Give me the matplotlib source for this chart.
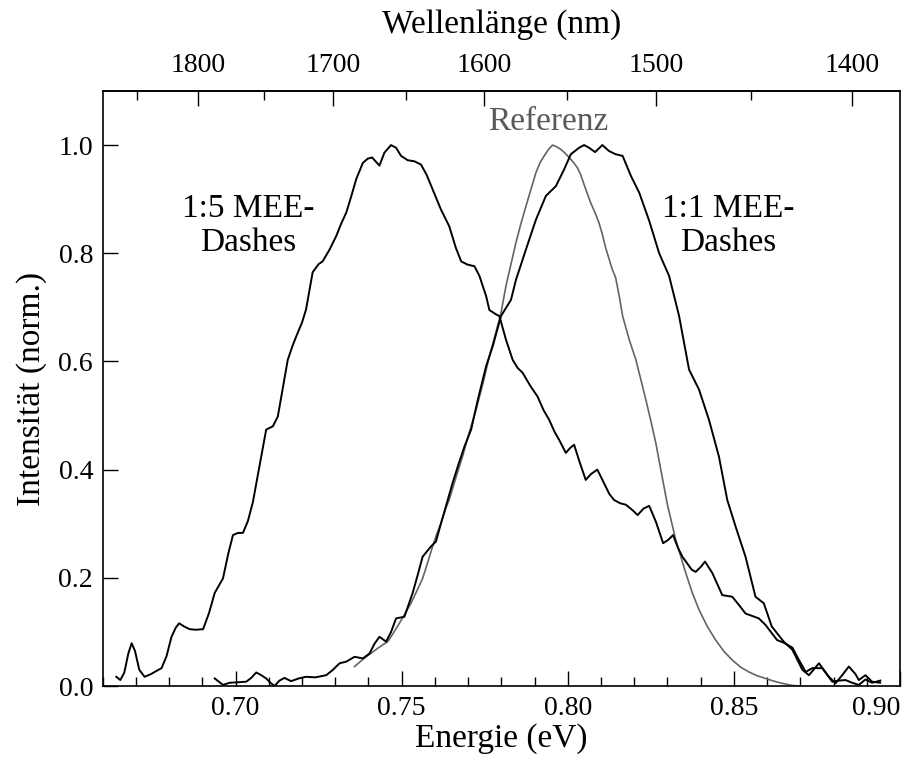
import matplotlib
matplotlib.use("Agg")
import matplotlib.pyplot as plt
from matplotlib.ticker import MultipleLocator, FixedLocator
import numpy as np

plt.rcParams['font.family'] = ['Liberation Serif', 'DejaVu Serif']
plt.rcParams['mathtext.fontset'] = 'stix'

# ---- data -------------------------------------------------------------
e_15 = [0.6641,0.6653,0.6665,0.6677,0.6687,0.6697,0.6710,0.6726,0.6745,0.6762,0.6777,0.6792,0.6807,0.6820,0.6830,
        0.6845,0.6862,0.6880,0.6902,0.6920,0.6937,0.6962,0.6978,0.6992,0.7007,0.7022,0.7037,0.7052,0.7070,0.7092,
        0.7112,0.7127,0.7142,0.7157,0.7172,0.7187,0.7200,0.7212,0.7232,0.7250,0.7262,0.7283,0.7303,0.7318,0.7333,
        0.7348,0.7363,0.7383,0.7398,0.7411,0.7433,0.7448,0.7468,0.7483,0.7498,0.7518,0.7538,0.7558,0.7575,0.7593,
        0.7618,0.7643,0.7663,0.7679,0.7698,0.7719,0.7734,0.7754,0.7764,0.7784,0.7794,0.7814,0.7834,0.7849,0.7864,
        0.7887,0.7909,0.7927,0.7944,0.7960,0.7974,0.7994,0.8007,0.8019,0.8035,0.8054,0.8070,0.8089,0.8109,0.8125,
        0.8139,0.8157,0.8175,0.8195,0.8210,0.8228,0.8245,0.8265,0.8287,0.8302,0.8317,0.8332,0.8345,0.8373,0.8385,
        0.8400,0.8413,0.8435,0.8465,0.8495,0.8515,0.8535,0.8575,0.8595,0.8630,0.8650,0.8676,0.8696,0.8716,0.8736,
        0.8766,0.8796,0.8816,0.8836,0.8856,0.8876,0.8896,0.8916,0.8941]
i_15 = [0.017,0.011,0.025,0.060,0.079,0.065,0.030,0.017,0.022,0.028,0.033,0.055,0.091,0.108,0.116,
        0.110,0.105,0.104,0.105,0.135,0.172,0.199,0.245,0.279,0.283,0.283,0.305,0.340,0.400,0.474,
        0.480,0.498,0.550,0.603,0.630,0.653,0.672,0.696,0.765,0.780,0.785,0.807,0.832,0.855,0.875,
        0.905,0.937,0.967,0.975,0.977,0.962,0.986,1.000,0.995,0.980,0.972,0.970,0.964,0.945,0.918,
        0.881,0.850,0.810,0.785,0.779,0.776,0.758,0.721,0.695,0.687,0.684,0.640,0.603,0.588,0.579,
        0.555,0.535,0.510,0.492,0.470,0.455,0.431,0.440,0.446,0.415,0.381,0.392,0.400,0.375,0.355,
        0.344,0.338,0.335,0.325,0.316,0.328,0.333,0.304,0.264,0.270,0.279,0.255,0.239,0.215,0.211,
        0.220,0.230,0.209,0.168,0.165,0.150,0.134,0.125,0.113,0.085,0.080,0.071,0.048,0.026,0.033,
        0.033,0.008,0.010,0.011,0.006,0.002,0.012,0.006,0.010]

e_11 = [0.6937,0.6962,0.6982,0.7010,0.7032,0.7047,0.7062,0.7077,0.7092,0.7105,0.7117,0.7132,0.7147,0.7167,0.7190,
        0.7212,0.7240,0.7273,0.7293,0.7313,0.7333,0.7358,0.7383,0.7403,0.7418,0.7433,0.7453,0.7468,0.7483,0.7508,
        0.7533,0.7548,0.7563,0.7588,0.7603,0.7618,0.7633,0.7653,0.7671,0.7689,0.7709,0.7729,0.7754,0.7774,0.7799,
        0.7829,0.7844,0.7874,0.7904,0.7934,0.7964,0.7989,0.8009,0.8034,0.8049,0.8064,0.8082,0.8104,0.8124,0.8144,
        0.8165,0.8190,0.8215,0.8245,0.8275,0.8305,0.8335,0.8365,0.8395,0.8425,0.8455,0.8480,0.8505,0.8535,0.8565,
        0.8590,0.8614,0.8650,0.8676,0.8706,0.8726,0.8756,0.8786,0.8806,0.8826,0.8846,0.8866,0.8876,0.8896,0.8916,
        0.8940]
i_11 = [0.014,0.002,0.006,0.007,0.008,0.015,0.025,0.020,0.014,0.006,0.000,0.010,0.015,0.009,0.014,
        0.017,0.016,0.020,0.030,0.042,0.045,0.054,0.051,0.060,0.078,0.091,0.082,0.100,0.125,0.128,
        0.172,0.205,0.239,0.258,0.267,0.300,0.332,0.375,0.410,0.443,0.474,0.529,0.591,0.628,0.684,
        0.714,0.751,0.807,0.862,0.906,0.924,0.955,0.983,0.995,1.000,0.995,0.987,1.000,0.989,0.983,
        0.980,0.943,0.912,0.860,0.800,0.758,0.684,0.585,0.548,0.492,0.424,0.344,0.295,0.239,0.165,
        0.153,0.110,0.082,0.067,0.030,0.020,0.042,0.017,0.005,0.020,0.036,0.022,0.011,0.020,0.008,
        0.006]

e_ref = [0.7358,0.7375,0.7393,0.7413,0.7433,0.7458,0.7475,0.7493,0.7510,0.7528,0.7545,0.7563,0.7578,0.7593,0.7605,
         0.7618,0.7633,0.7643,0.7663,0.7683,0.7703,0.7724,0.7744,0.7764,0.7784,0.7799,0.7814,0.7829,0.7844,0.7859,
         0.7874,0.7889,0.7904,0.7917,0.7929,0.7942,0.7954,0.7966,0.7979,0.7992,0.8004,0.8017,0.8029,0.8039,0.8049,
         0.8059,0.8069,0.8082,0.8094,0.8104,0.8114,0.8134,0.8144,0.8155,0.8165,0.8185,0.8205,0.8220,0.8235,0.8250,
         0.8265,0.8283,0.8300,0.8325,0.8355,0.8375,0.8395,0.8420,0.8445,0.8470,0.8495,0.8520,0.8545,0.8570,0.8595,
         0.8620,0.8645,0.8676,0.8700]
i_ref = [0.036,0.045,0.054,0.063,0.072,0.082,0.098,0.116,0.134,0.153,0.175,0.199,0.228,0.258,0.280,
         0.301,0.329,0.344,0.385,0.424,0.468,0.511,0.558,0.610,0.655,0.690,0.740,0.780,0.820,0.855,
         0.887,0.918,0.949,0.968,0.980,0.992,1.000,0.997,0.992,0.985,0.977,0.968,0.958,0.945,0.927,
         0.910,0.893,0.875,0.856,0.835,0.810,0.770,0.755,0.720,0.684,0.640,0.603,0.566,0.529,0.490,
         0.449,0.390,0.335,0.270,0.209,0.172,0.141,0.110,0.085,0.064,0.048,0.035,0.026,0.019,0.014,
         0.009,0.005,0.001,0.000]

x_ticks = [0.70, 0.75, 0.80, 0.85, 0.90]
y_ticks = [0.0, 0.2, 0.4, 0.6, 0.8, 1.0]
wl_major = [1400, 1500, 1600, 1700, 1800]
wl_minor = [1350, 1450, 1550, 1650, 1750, 1850]
HC = 1239.84

# ---- figure -----------------------------------------------------------
fig = plt.figure(figsize=(9.10, 7.67), dpi=100)
ax = fig.add_axes([0.1129, 0.1056, 0.989 - 0.1129, 0.8814 - 0.1056])

gray = '#646464'
ax.plot(e_ref, i_ref, color=gray, lw=1.2, zorder=2)
ax.plot(e_15, i_15, color='black', lw=1.4, zorder=3)
ax.plot(e_11, i_11, color='black', lw=1.4, zorder=3)

ax.set_xlim(0.66, 0.90)
ax.set_ylim(0.0, 1.1)

ax.set_xticks(x_ticks)
ax.set_xticklabels([f"{v:.2f}" for v in x_ticks])
ax.xaxis.set_minor_locator(MultipleLocator(0.01))
ax.set_yticks(y_ticks)
ax.set_yticklabels([f"{v:.1f}" for v in y_ticks])

ax.tick_params(axis='x', which='major', direction='in', length=11, width=1.0,
               labelsize=20, pad=7, top=False)
ax.tick_params(axis='x', which='minor', direction='in', length=6.5, width=1.0, top=False)
ax.tick_params(axis='y', which='major', direction='in', length=11, width=1.0,
               labelsize=20, pad=7, right=False)
for s in ax.spines.values():
    s.set_linewidth(1.2)
# last bottom label sits inside the right edge
ax.get_xticklabels()[-1].set_horizontalalignment('right')

ax.set_xlabel('Energie (eV)', fontsize=24, labelpad=2)
ax.set_ylabel('Intensität (norm.)', fontsize=24, labelpad=8)

sec = ax.secondary_xaxis('top', functions=(lambda x: HC / np.where(x == 0, 1e-9, x),
                                           lambda x: HC / np.where(x == 0, 1e-9, x)))
sec.xaxis.set_major_locator(FixedLocator(wl_major))
sec.xaxis.set_minor_locator(FixedLocator(wl_minor))
sec.xaxis.set_major_formatter(matplotlib.ticker.FormatStrFormatter('%d'))
sec.tick_params(axis='x', which='major', direction='in', length=11, width=1.0,
                labelsize=20, pad=9)
sec.tick_params(axis='x', which='minor', direction='in', length=6.5, width=1.0)
sec.spines['top'].set_linewidth(1.2)
sec.set_xlabel('Wellenlänge (nm)', fontsize=24, labelpad=15)

ax.text(0.7039, 0.850, '1:5 MEE-\nDashes', fontsize=24, ha='center', va='center',
        linespacing=1.15)
ax.text(0.8484, 0.850, '1:1 MEE-\nDashes', fontsize=24, ha='center', va='center',
        linespacing=1.15)
ax.text(0.7940, 1.044, 'Referenz', fontsize=24, ha='center', va='center', color='#5a5a5a')

fig.savefig('out.png', dpi=100)
